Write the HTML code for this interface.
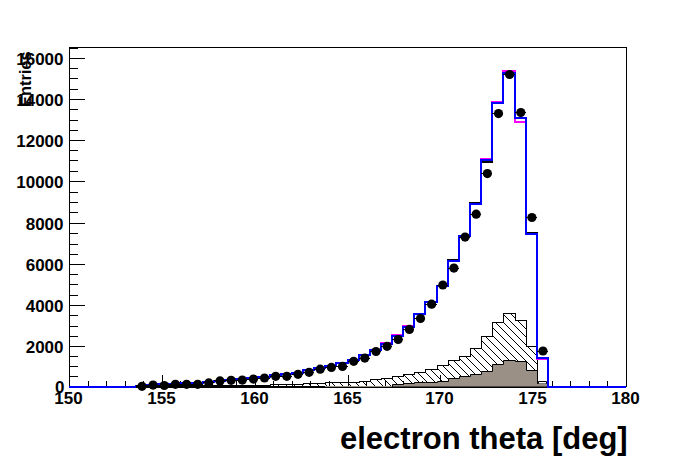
<!DOCTYPE html>
<html><head><meta charset="utf-8"><style>
html,body{margin:0;padding:0;background:#fff;width:696px;height:472px;overflow:hidden}
svg{display:block}
text{font-family:"Liberation Sans",sans-serif;font-weight:bold;fill:#000}
</style></head><body>
<svg width="696" height="472" viewBox="0 0 696 472">
<defs>
<pattern id="h" patternUnits="userSpaceOnUse" width="8" height="8" patternTransform="translate(5,0)">
<path d="M-1,-1 L9,9 M-9,-1 L1,9 M7,-1 L17,9" stroke="#000" stroke-width="1"/>
</pattern>
</defs>
<rect width="696" height="472" fill="#fff"/>
<rect x="69.5" y="47.5" width="557" height="339" fill="none" stroke="#000" stroke-width="1"/>
<path d="M69,386.5h16 M69,376.5h9 M69,366.5h9 M69,356.5h9 M69,346.5h16 M69,336.5h9 M69,326.5h9 M69,315.5h9 M69,305.5h16 M69,295.5h9 M69,284.5h9 M69,274.5h9 M69,264.5h16 M69,254.5h9 M69,244.5h9 M69,233.5h9 M69,223.5h16 M69,212.5h9 M69,202.5h9 M69,192.5h9 M69,181.5h16 M69,171.5h9 M69,160.5h9 M69,150.5h9 M69,140.5h16 M69,130.5h9 M69,120.5h9 M69,109.5h9 M69,99.5h16 M69,89.5h9 M69,78.5h9 M69,68.5h9 M69,58.5h16 M69,48.5h9 M69.5,387v-12 M88.5,387v-6 M106.5,387v-6 M125.5,387v-6 M143.5,387v-6 M162.5,387v-12 M180.5,387v-6 M199.5,387v-6 M218.5,387v-6 M236.5,387v-6 M255.5,387v-12 M273.5,387v-6 M292.5,387v-6 M310.5,387v-6 M329.5,387v-6 M348.5,387v-12 M366.5,387v-6 M385.5,387v-6 M403.5,387v-6 M422.5,387v-6 M440.5,387v-12 M459.5,387v-6 M477.5,387v-6 M496.5,387v-6 M515.5,387v-6 M533.5,387v-12 M552.5,387v-6 M570.5,387v-6 M589.5,387v-6 M607.5,387v-6 M626.5,387v-12" stroke="#000" stroke-width="1" fill="none"/>
<path d="M270.5,387 V384.5 H281.5 V384.5 H292.5 V384.5 H303.5 V383.5 H314.5 V383.5 H325.5 V382.5 H336.5 V382.5 H348.5 V382.5 H359.5 V381.5 H370.5 V379.5 H381.5 V378.5 H392.5 V376.5 H403.5 V374.5 H414.5 V372.5 H425.5 V369.5 H437.5 V365.5 H448.5 V360.5 H459.5 V356.5 H470.5 V348.5 H481.5 V336.5 H492.5 V322.5 H503.5 V313.5 H515.5 V320.5 H526.5 V346.5 H537.5 V387 Z" fill="url(#h)" stroke="#000" stroke-width="1" shape-rendering="crispEdges"/>
<path d="M537.5,387 V359.5 H548.5 V387 Z" fill="#fff" stroke="#000" stroke-width="1"/>
<path d="M392.5,387 V384.5 H403.5 V383.5 H414.5 V382.5 H425.5 V382.5 H437.5 V381.5 H448.5 V378.5 H459.5 V376.5 H470.5 V374.5 H481.5 V371.5 H492.5 V364.5 H503.5 V360.5 H515.5 V361.5 H526.5 V370.5 H537.5 V383.5 H548.5 V387 Z" fill="#9a9085" stroke="#000" stroke-width="1"/>
<path d="M538.5,383.5 V381.5 H546.5 V383.5" fill="#fff" stroke="#000" stroke-width="1"/>
<path d="M69,387 H69 V387 H80 V387 H91 V387 H102 V387 H114 V387 H125 V387 H136 V386 H147 V385 H158 V384 H169 V384 H180 V383 H192 V383 H203 V382 H214 V381 H225 V380 H236 V379 H247 V378 H258 V377 H270 V375 H281 V374 H292 V373 H303 V370 H314 V368 H325 V366 H336 V363 H348 V360 H359 V355 H370 V350 H381 V344 H392 V336 H403 V327 H414 V314 H425 V302 H437 V286 H448 V260 H459 V236 H470 V203 H481 V162 H492 V103 H503 V73 H515 V118 H526 V233 H537 V358 H548 V387 H559 V387 H570 V387 H581 V387 H593 V387 H604 V387 H615 V387 H626 V387" fill="none" stroke="#000" stroke-width="2"/>
<path d="M69,387 H69 V387 H80 V387 H91 V387 H102 V387 H114 V387 H125 V387 H136 V386 H147 V385 H158 V384 H169 V384 H180 V383 H192 V383 H203 V382 H214 V381 H225 V380 H236 V379 H247 V378 H258 V377 H270 V375 H281 V374 H292 V373 H303 V370 H314 V368 H325 V366 H336 V363 H348 V360 H359 V355 H370 V350 H381 V343 H392 V335 H403 V326 H414 V314 H425 V302 H437 V286 H448 V261 H459 V236 H470 V204 H481 V159 H492 V102 H503 V71 H515 V122 H526 V234 H537 V359 H548 V387 H559 V387 H570 V387 H581 V387 H593 V387 H604 V387 H615 V387 H626 V387" fill="none" stroke="#f0f" stroke-width="2"/>
<path d="M69,387 H69 V387 H80 V387 H91 V387 H102 V387 H114 V387 H125 V387 H136 V386 H147 V385 H158 V384 H169 V384 H180 V383 H192 V383 H203 V382 H214 V381 H225 V380 H236 V379 H247 V378 H258 V377 H270 V375 H281 V374 H292 V373 H303 V370 H314 V368 H325 V366 H336 V363 H348 V360 H359 V355 H370 V350 H381 V344 H392 V336 H403 V327 H414 V314 H425 V302 H437 V286 H448 V261 H459 V236 H470 V204 H481 V160 H492 V103 H503 V73 H515 V118 H526 V234 H537 V358 H548 V387 H559 V387 H570 V387 H581 V387 H593 V387 H604 V387 H615 V387 H626 V387" fill="none" stroke="#00f" stroke-width="2"/>
<rect x="136" y="385" width="134" height="3" fill="#000"/>
<rect x="270" y="386" width="55" height="2" fill="#000"/>
<rect x="325" y="386" width="67" height="1" fill="#9a9085"/>
<rect x="325" y="387" width="222" height="1" fill="#000"/>
<path d="M136,386.5H147M147,385.5H158M158,385.5H169M169,384.5H180M180,384.5H192M192,384.5H203M203,382.5H214M214,380.5H225M225,380.5H236M236,380.5H247M247,379.5H258M258,378.5H270M270,376.5H281M281,376.5H292M292,374.5H303M303,372.5H314M314,369.5H325M325,367.5H336M336,366.5H348M348,361.5H359M359,358.5H370M370,351.5H381M381,346.5H392M392,339.5H403M403,329.5H414M414,318.5H425M425,304.5H437M437,285.5H448M448,268.5H459M459,237.5H470M470,214.5H481M481,173.5H492M492,113.5H503M503,74.5H515M515,112.5H526M526,217.5H537M537,351.5H548" stroke="#000" stroke-width="1" fill="none"/>
<g fill="#000"><circle cx="142.0" cy="386.3" r="4.6"/><circle cx="153.1" cy="385.1" r="4.6"/><circle cx="164.3" cy="385.5" r="4.6"/><circle cx="175.4" cy="384.3" r="4.6"/><circle cx="186.6" cy="384.3" r="4.6"/><circle cx="197.7" cy="384.3" r="4.6"/><circle cx="208.8" cy="382.9" r="4.6"/><circle cx="220.0" cy="380.9" r="4.6"/><circle cx="231.1" cy="380.3" r="4.6"/><circle cx="242.3" cy="380.1" r="4.6"/><circle cx="253.4" cy="379.1" r="4.6"/><circle cx="264.5" cy="378.0" r="4.6"/><circle cx="275.7" cy="376.3" r="4.6"/><circle cx="286.8" cy="376.3" r="4.6"/><circle cx="298.0" cy="374.3" r="4.6"/><circle cx="309.1" cy="372.3" r="4.6"/><circle cx="320.2" cy="369.2" r="4.6"/><circle cx="331.4" cy="367.4" r="4.6"/><circle cx="342.5" cy="366.4" r="4.6"/><circle cx="353.7" cy="361.3" r="4.6"/><circle cx="364.8" cy="358.1" r="4.6"/><circle cx="376.0" cy="351.5" r="4.6"/><circle cx="387.1" cy="346.3" r="4.6"/><circle cx="398.2" cy="339.5" r="4.6"/><circle cx="409.4" cy="329.4" r="4.6"/><circle cx="420.5" cy="318.5" r="4.6"/><circle cx="431.6" cy="304.2" r="4.6"/><circle cx="442.8" cy="285.0" r="4.6"/><circle cx="453.9" cy="268.1" r="4.6"/><circle cx="465.1" cy="237.1" r="4.6"/><circle cx="476.2" cy="214.2" r="4.6"/><circle cx="487.4" cy="173.6" r="4.6"/><circle cx="498.5" cy="113.6" r="4.6"/><circle cx="509.6" cy="74.5" r="4.6"/><circle cx="520.8" cy="112.6" r="4.6"/><circle cx="531.9" cy="217.5" r="4.6"/><circle cx="543.0" cy="351.0" r="4.6"/></g>
<g font-size="17"><text x="64.5" y="393" text-anchor="end">0</text><text x="63.5" y="353" text-anchor="end">2000</text><text x="63.5" y="312" text-anchor="end">4000</text><text x="63.5" y="271" text-anchor="end">6000</text><text x="63.5" y="230" text-anchor="end">8000</text><text x="63.5" y="188" text-anchor="end">10000</text><text x="63.5" y="147" text-anchor="end">12000</text><text x="63.5" y="106" text-anchor="end">14000</text><text x="63.5" y="65" text-anchor="end">16000</text><text x="68.5" y="404" text-anchor="middle">150</text><text x="161.5" y="404" text-anchor="middle">155</text><text x="254.5" y="404" text-anchor="middle">160</text><text x="347.5" y="404" text-anchor="middle">165</text><text x="439.5" y="404" text-anchor="middle">170</text><text x="532.5" y="404" text-anchor="middle">175</text><text x="625.5" y="404" text-anchor="middle">180</text></g>
<text x="0" y="0" font-size="16.4" transform="translate(31,107) rotate(-90)">Entries</text>
<text x="340" y="448.5" font-size="31">electron theta [deg]</text>
</svg>
</body></html>
